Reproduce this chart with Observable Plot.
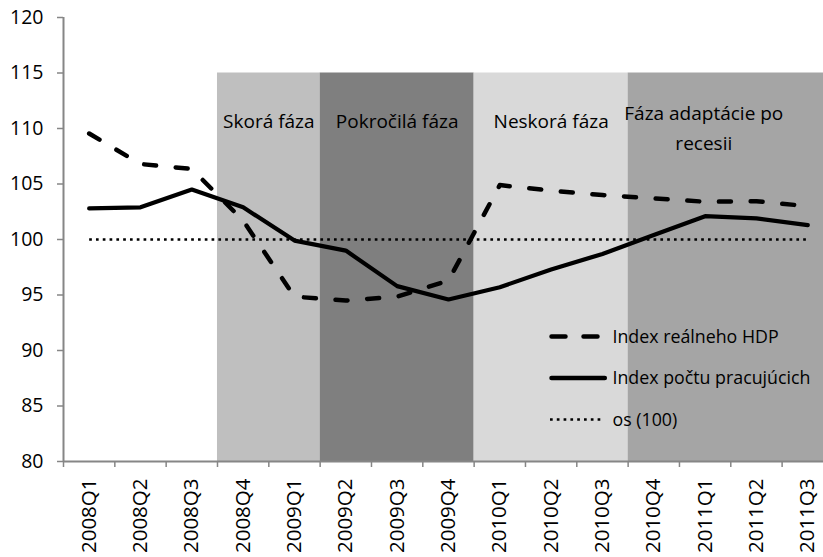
<!DOCTYPE html>
<html>
<head>
<meta charset="utf-8">
<script src="https://cdn.jsdelivr.net/npm/d3@7"></script>
<script src="https://cdn.jsdelivr.net/npm/@observablehq/plot@0.6"></script>
<style>
  html, body { margin: 0; padding: 0; background: #fff; }
  #chart { position: relative; width: 823px; height: 557px; overflow: hidden; font-family: "Open Sans", sans-serif; }
  #legend { position: absolute; left: 0; top: 0; pointer-events: none; }
</style>
</head>
<body>
<div id="chart"></div>
<script>
// ---- data ----
const quarters = ["2008Q1","2008Q2","2008Q3","2008Q4","2009Q1","2009Q2","2009Q3","2009Q4",
                  "2010Q1","2010Q2","2010Q3","2010Q4","2011Q1","2011Q2","2011Q3"];
const hdpIndex = [109.55, 106.8, 106.35, 101.7, 94.85, 94.5, 94.85, 96.3,
                  104.9, 104.4, 104.0, 103.7, 103.4, 103.45, 103.0];
const pracujuciIndex = [102.8, 102.9, 104.5, 102.9, 99.9, 99.0, 95.8, 94.6,
                        95.7, 97.3, 98.7, 100.4, 102.1, 101.9, 101.3];
const baselineValue = 100;
const phaseNames = ["Skorá fáza", "Pokročilá fáza", "Neskorá fáza", "Fáza adaptácie po\nrecesii"];
const phaseFrom = ["2008Q4", "2009Q2", "2010Q1", "2010Q4"];
const phaseTo   = ["2009Q1", "2009Q4", "2010Q3", "2011Q3"];
const phaseTopValue = 115;
const yTicks = [80, 85, 90, 95, 100, 105, 110, 115, 120];
const legendLabels = ["Index reálneho HDP", "Index počtu pracujúcich", "os (100)"];

// ---- styles ----
const phaseColors = ["#bfbfbf", "#7f7f7f", "#d9d9d9", "#a5a5a5"];
const axisColor = "#868686";
const n = quarters.length;
const bandPx = 51.33;
const left = 63;

const rows = quarters.map((q, i) => ({q, x: i + 0.5, hdp: hdpIndex[i], prac: pracujuciIndex[i], base: baselineValue}));
const phases = phaseNames.map((name, i) => ({
  name,
  x1: quarters.indexOf(phaseFrom[i]),
  x2: quarters.indexOf(phaseTo[i]) + 1
}));

const chart = Plot.plot({
  width: 823,
  height: 557,
  marginTop: 17,
  marginBottom: 96,
  marginLeft: left,
  marginRight: 0,
  style: {fontFamily: "'Open Sans', sans-serif", color: "black", background: "white", overflow: "hidden"},
  x: {domain: [0, n], range: [left, left + n * bandPx]},
  y: {domain: [80, 120]},
  color: {domain: phaseNames, range: phaseColors},
  marks: [
    Plot.rect(phases, {x1: "x1", x2: "x2", y1: 80, y2: phaseTopValue, fill: "name"}),
    Plot.text(phases.slice(0, 3), {x: d => (d.x1 + d.x2) / 2, y: 110.6, text: "name",
      fontSize: 19, fill: "#000"}),
    Plot.text(phases.slice(3), {x: d => (d.x1 + d.x2) / 2, y: 110.25, text: "name", dx: -27,
      fontSize: 19, lineHeight: 1.58, fill: "#000"}),
    Plot.ruleY([80], {stroke: axisColor, strokeWidth: 2}),
    Plot.ruleX([0], {stroke: axisColor, strokeWidth: 2}),
    Plot.axisY({ticks: yTicks, tickSize: 6, tickPadding: 14, fontSize: 19.5, stroke: axisColor,
      strokeWidth: 1.5, label: null, tickFormat: d => String(d)}),
    Plot.axisX({ticks: d3.range(n + 1), tickSize: 6, tickFormat: () => "", stroke: axisColor,
      strokeWidth: 1.5, label: null}),
    Plot.text(rows, {x: "x", y: 80, text: "q", rotate: -90, textAnchor: "end", dy: 17,
      fontSize: 20.5, fill: "black"}),
    Plot.line(rows, {x: "x", y: "hdp", stroke: "black", strokeWidth: 4.5,
      strokeDasharray: "12,19.7", strokeLinecap: "round", strokeLinejoin: "round"}),
    Plot.line(rows, {x: "x", y: "prac", stroke: "black", strokeWidth: 4.2,
      strokeLinecap: "round", strokeLinejoin: "round"}),
    Plot.line(rows, {x: "x", y: "base", stroke: "black", strokeWidth: 2.7,
      strokeDasharray: "2.7,4.1", strokeLinecap: "butt"})
  ]
});

const container = document.getElementById("chart");
container.appendChild(chart);

// ---- legend overlay ----
const legend = d3.select(container).append("svg")
  .attr("id", "legend").attr("width", 823).attr("height", 557);
const legendItems = [
  {label: legendLabels[0], y: 336.5, x2: 600, w: 4.5, dash: "14,18", cap: "round"},
  {label: legendLabels[1], y: 378, x2: 607, w: 4.5, dash: null, cap: "round"},
  {label: legendLabels[2], y: 419.5, x2: 602, w: 2.7, dash: "2.7,4.1", cap: "butt"}
];
legendItems.forEach(it => {
  const ln = legend.append("line")
    .attr("x1", it.cap === "round" ? 551.5 : 550).attr("x2", it.cap === "round" ? it.x2 - 2.2 : it.x2)
    .attr("y1", it.y).attr("y2", it.y)
    .attr("stroke", "black").attr("stroke-width", it.w)
    .attr("stroke-linecap", it.cap);
  if (it.dash) ln.attr("stroke-dasharray", it.dash);
  legend.append("text")
    .attr("x", 612.5).attr("y", it.y).attr("dy", "0.35em")
    .attr("font-family", "'Open Sans', sans-serif").attr("font-size", 17.8)
    .attr("fill", "#000")
    .text(it.label);
});
</script>
</body>
</html>
